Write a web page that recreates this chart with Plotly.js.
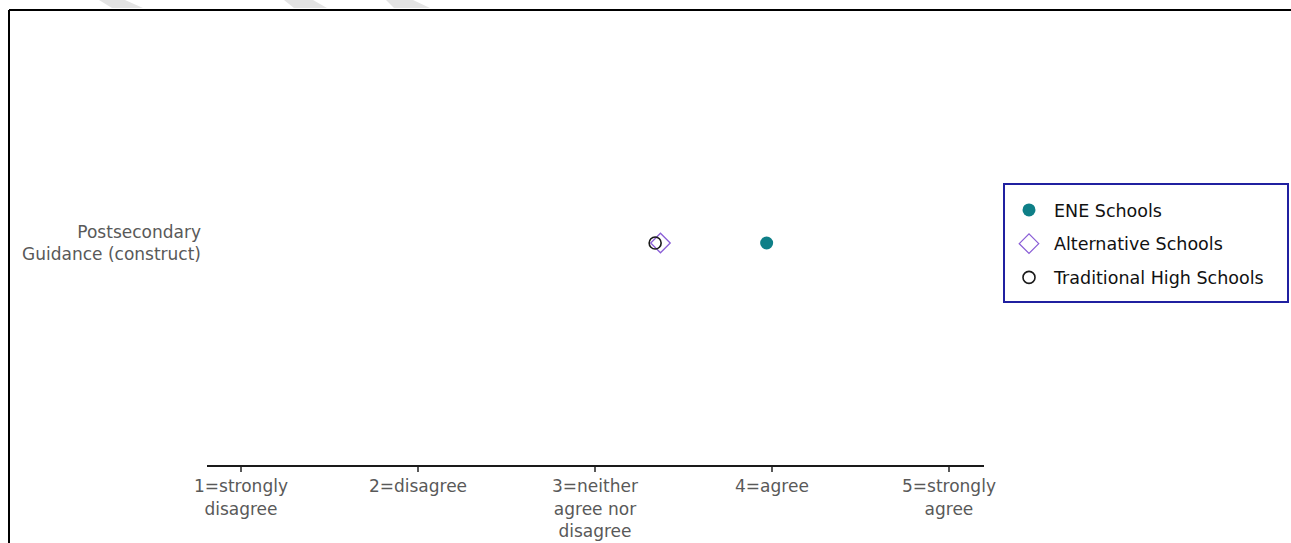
<!DOCTYPE html>
<html>
<head>
<meta charset="utf-8">
<script src="https://cdn.plot.ly/plotly-3.0.1.min.js"></script>
<style>
html,body{margin:0;padding:0;background:#fff;}
#chart{width:1291px;height:543px;}
</style>
</head>
<body>
<div id="chart"></div>
<script>
const categories = ["Postsecondary<br>Guidance (construct)"];
const eneValues = [3.97];
const altValues = [3.37];
const tradValues = [3.34];
const tickValues = [1, 2, 3, 4, 5];
const tickLabels = ["1=strongly<br>disagree", "2=disagree", "3=neither<br>agree nor<br>disagree", "4=agree", "5=strongly<br>agree"];
const seriesNames = ["ENE Schools", "Alternative Schools", "Traditional High Schools"];

const W = 1291, H = 543;
const L = 207, R = 984, T = 21, B = 465;
const px = x => (x - L) / (R - L);
const py = y => (B - y) / (B - T);
const FONT = 'DejaVu Sans, Liberation Sans, Arial, sans-serif';

const traces = [
  {x: eneValues, y: categories, name: seriesNames[0], type: 'scatter', mode: 'markers', legendgroup: 'a',
   marker: {symbol: 'circle', size: 13, color: '#0E7F87', line: {width: 0}}},
  {x: altValues, y: categories, name: seriesNames[1], type: 'scatter', mode: 'markers', legendgroup: 'b',
   marker: {symbol: 'diamond-open', size: 15, color: '#8A5ED6', line: {width: 1.3}}},
  {x: tradValues, y: categories, name: seriesNames[2], type: 'scatter', mode: 'markers', legendgroup: 'c',
   marker: {symbol: 'circle-open', size: 12, color: '#1a1a1a', line: {width: 1.6}}}
];

function stripe(x0top, x1top, x1bot, x0bot, ybot) {
  return {type: 'path', xref: 'paper', yref: 'paper', layer: 'above',
    path: `M ${px(x0top)} ${py(0)} L ${px(x1top)} ${py(0)} L ${px(x1bot)} ${py(ybot)} L ${px(x0bot)} ${py(ybot)} Z`,
    fillcolor: '#E3E3E3', line: {width: 0}};
}

const layout = {
  width: W, height: H,
  margin: {l: L, r: W - R, t: T, b: H - B, pad: 0},
  paper_bgcolor: '#ffffff', plot_bgcolor: '#ffffff',
  font: {family: FONT, size: 17, color: '#595959'},
  showlegend: true,
  xaxis: {
    range: [0.808, 5.198], tickvals: tickValues, ticktext: tickLabels,
    showgrid: false, zeroline: false, showline: true, linecolor: '#1a1a1a', linewidth: 2,
    ticks: 'outside', ticklen: 5, tickcolor: '#595959', tickwidth: 1.5,
    tickfont: {family: FONT, size: 17, color: '#595959'}, fixedrange: true
  },
  yaxis: {
    range: [-1, 1], type: 'category', showgrid: false, zeroline: false, showline: false,
    ticks: '', ticklabelstandoff: 5, tickfont: {family: FONT, size: 17, color: '#595959'}, fixedrange: true
  },
  legend: {
    x: px(1004), y: py(192), xanchor: 'left', yanchor: 'top',
    bgcolor: 'rgba(0,0,0,0)', borderwidth: 0,
    font: {size: 17.5, color: '#111111', family: FONT},
    tracegroupgap: 8, itemsizing: 'trace', itemwidth: 40
  },
  shapes: [
    {type: 'line', xref: 'paper', yref: 'paper', x0: px(9), x1: px(1292), y0: py(10), y1: py(10), line: {color: '#000000', width: 2}},
    {type: 'line', xref: 'paper', yref: 'paper', x0: px(9), x1: px(9), y0: py(10), y1: py(545), line: {color: '#000000', width: 2}},
    {type: 'rect', xref: 'paper', yref: 'paper', x0: px(1004), x1: px(1288), y0: py(302), y1: py(184), line: {color: '#2020A0', width: 2}, fillcolor: 'rgba(0,0,0,0)'},
    stripe(99, 125, 143, 112, 8),
    stripe(284, 313, 327, 294, 8),
    stripe(386, 413, 430, 394, 8)
  ]
};

Plotly.newPlot('chart', traces, layout, {displayModeBar: false, staticPlot: true});
</script>
</body>
</html>
